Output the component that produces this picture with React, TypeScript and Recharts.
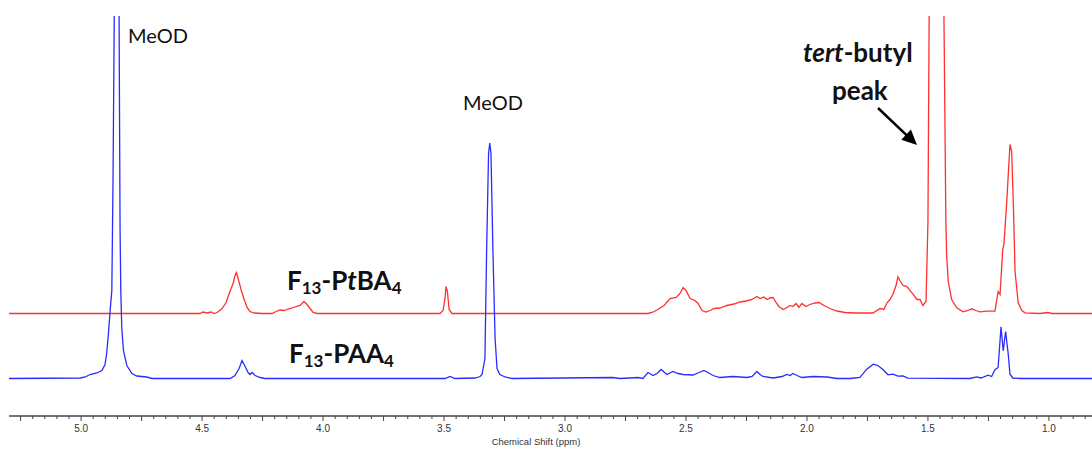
import React from 'react';
import { LineChart, Line, XAxis, YAxis } from 'recharts';

// F13-PAA4 trace (blue): chemical shift (ppm) and intensity
const bluePpm = [
  5.298, 5.004, 4.983, 4.963, 4.935, 4.914, 4.901, 4.894, 4.887, 4.88, 4.873, 4.868, 4.863, 4.853,
  4.843, 4.839, 4.836, 4.832, 4.825, 4.811, 4.79, 4.77, 4.729, 4.707, 4.384, 4.364, 4.347, 4.335,
  4.322, 4.31, 4.302, 4.293, 4.281, 4.26, 4.24, 3.496, 3.475, 3.455, 3.372, 3.351, 3.343, 3.331,
  3.324, 3.316, 3.311, 3.306, 3.298, 3.289, 3.281, 3.269, 3.248, 3.219, 2.802, 2.773, 2.698, 2.678,
  2.657, 2.636, 2.62, 2.603, 2.579, 2.554, 2.533, 2.512, 2.471, 2.446, 2.426, 2.409, 2.388, 2.36,
  2.306, 2.248, 2.227, 2.207, 2.194, 2.182, 2.14, 2.103, 2.083, 2.07, 2.058, 2.041, 2.021, 1.975,
  1.917, 1.876, 1.822, 1.781, 1.753, 1.726, 1.707, 1.686, 1.665, 1.645, 1.624, 1.603, 1.583, 1.326,
  1.299, 1.281, 1.251, 1.237, 1.223, 1.21, 1.198, 1.189, 1.179, 1.168, 1.161, 1.149, 1.12, 0.822,
];
const blueIntensity = [
  0, 0.5, 1.5, 4, 5.5, 8, 14, 26, 45, 68, 88, 200, 361, 900,
  361, 150, 88, 51, 28, 13, 5, 2.5, 1.5, 0, 0, 3, 10, 18,
  12, 6, 4, 6, 3, 1, 0, 0, 2, 0, 0.5, 2, 4, 20,
  128, 225, 235.5, 225, 128, 40, 10, 4, 1.5, 0, 1, 0, 1, 0,
  6, 3, 5, 9, 4, 7, 5, 4, 3.5, 6, 8, 6, 3, 1,
  2, 1, 2, 7, 4, 2, 0.5, 2, 4, 3, 5, 3, 1, 2,
  1.5, 0, 0, 1, 9.3, 14.3, 13, 9, 3.7, 4.3, 2.3, 2.7, 0.3, 0,
  1.7, 0.5, 3.3, 2, 8.7, 11, 51.7, 27.7, 47, 24, 4.3, 0.5, 0, 0,
];

// F13-PtBA4 trace (red)
const redPpm = [
  5.298, 4.508, 4.496, 4.479, 4.463, 4.45, 4.438, 4.417, 4.401, 4.388, 4.38, 4.372, 4.364, 4.358,
  4.351, 4.339, 4.326, 4.314, 4.302, 4.285, 4.252, 4.211, 4.194, 4.178, 4.161, 4.145, 4.128, 4.112,
  4.095, 4.079, 4.066, 4.054, 4.041, 4.025, 3.517, 3.504, 3.496, 3.492, 3.486, 3.479, 3.467, 2.657,
  2.64, 2.616, 2.591, 2.566, 2.541, 2.525, 2.512, 2.5, 2.483, 2.463, 2.45, 2.434, 2.417, 2.401,
  2.384, 2.36, 2.331, 2.302, 2.277, 2.252, 2.227, 2.207, 2.194, 2.178, 2.165, 2.153, 2.14, 2.128,
  2.116, 2.099, 2.083, 2.07, 2.058, 2.045, 2.033, 2.021, 2.004, 1.988, 1.967, 1.95, 1.93, 1.905,
  1.876, 1.843, 1.802, 1.727, 1.698, 1.682, 1.669, 1.657, 1.645, 1.632, 1.624, 1.616, 1.603, 1.587,
  1.566, 1.545, 1.533, 1.521, 1.508, 1.5, 1.495, 1.465, 1.434, 1.426, 1.423, 1.416, 1.402, 1.381,
  1.355, 1.335, 1.319, 1.302, 1.285, 1.257, 1.223, 1.21, 1.202, 1.191, 1.186, 1.175, 1.161, 1.154,
  1.147, 1.14, 1.127, 1.112, 1.099, 1.037, 1.004, 0.988, 0.822,
];
const redIntensity = [
  0, 0, 1.5, 0.5, 1.5, 0, 1, 5, 11, 20, 25, 30, 38, 41,
  35, 24, 14, 6, 2, 0.5, 0, 0, 2, 3.5, 3, 4.5, 5.5, 7,
  8, 12, 9, 5, 1, 0, 0, 3, 15, 27, 22, 4, 0, 0,
  1, 4, 8, 15, 16, 20, 26, 23, 15, 13, 10, 3, 1.5, 3,
  5, 5.5, 8, 9.5, 11.5, 12.5, 14, 17, 15, 16.5, 14, 15.5, 16, 11,
  7, 4, 6, 8, 7, 10, 6, 10, 7, 9, 10.5, 11, 8, 5,
  2.5, 1, 0.5, 0.5, 5, 4, 10.7, 14, 19, 28, 36.7, 33, 28, 27,
  20.7, 14, 14, 8, 12, 92, 300, 800, 300, 94, 59, 32, 14, 5.7,
  1.7, 3, 4.7, 3, 1.7, 2.3, 2.3, 22, 19, 64, 69, 109, 169, 162,
  109, 42, 10.7, 3, 0.7, 0, 1, 0, 0,
];

const labelTicks = [5.0, 4.5, 4.0, 3.5, 3.0, 2.5, 2.0, 1.5, 1.0];

// vertical stacking of the two spectra
const RED_OFFSET = 102.5;
const BLUE_OFFSET = 37.5;

const blueData = bluePpm.map((ppm, i) => ({ ppm, v: blueIntensity[i] + BLUE_OFFSET }));
const redData = redPpm.map((ppm, i) => ({ ppm, v: redIntensity[i] + RED_OFFSET }));

// minor ticks every 0.05 ppm
const axisTicks: number[] = [];
for (let k = 17; k <= 105; k++) axisTicks.push(Math.round(k * 5) / 100);

const AxisTick = (props: any) => {
  const { x, y, payload } = props;
  const v = payload.value as number;
  const h = Math.round(v * 100);
  const isLabel = labelTicks.some((t) => Math.abs(t - v) < 1e-6);
  const len = h % 25 === 0 ? 5 : 3;
  return (
    <g>
      <line x1={x} y1={y} x2={x} y2={y + len} stroke="#444" strokeWidth={1} />
      {isLabel && (
        <text
          x={x}
          y={y + 16}
          textAnchor="middle"
          fontSize={10}
          fill="#333"
          fontFamily="'Liberation Sans', Arial, sans-serif"
        >
          {v.toFixed(1)}
        </text>
      )}
    </g>
  );
};

const W = 1092;
const H = 449;

const arrowFrom = { x: 878, y: 108 };
const arrowTo = { x: 917, y: 145 };

const Arrow = () => {
  const dx = arrowTo.x - arrowFrom.x;
  const dy = arrowTo.y - arrowFrom.y;
  const len = Math.sqrt(dx * dx + dy * dy);
  const ux = dx / len;
  const uy = dy / len;
  const headLen = 15;
  const headHalf = 7;
  const bx = arrowTo.x - ux * headLen;
  const by = arrowTo.y - uy * headLen;
  const pts = [
    `${arrowTo.x},${arrowTo.y}`,
    `${bx - uy * headHalf},${by + ux * headHalf}`,
    `${bx + uy * headHalf},${by - ux * headHalf}`,
  ].join(' ');
  return (
    <g>
      <line x1={arrowFrom.x} y1={arrowFrom.y} x2={bx + ux * 2} y2={by + uy * 2} stroke="#000" strokeWidth={2.5} />
      <polygon points={pts} fill="#000" />
    </g>
  );
};

const font = "Lato, 'Open Sans', sans-serif";

export default function App() {
  return (
    <div style={{ position: 'absolute', left: 0, top: 0, width: W, height: H, background: '#fff' }}>
      <LineChart width={W} height={H} margin={{ top: 16, right: 0, left: 9, bottom: 0 }}>
        <XAxis
          type="number"
          dataKey="ppm"
          domain={[0.822, 5.298]}
          reversed
          allowDataOverflow
          ticks={axisTicks}
          interval={0}
          tick={<AxisTick />}
          tickLine={false}
          tickSize={0}
          tickMargin={0}
          height={33}
          axisLine={{ stroke: '#444', strokeWidth: 1.5 }}
        />
        <YAxis type="number" domain={[0, 400]} allowDataOverflow hide />
        <Line
          data={redData}
          dataKey="v"
          type="linear"
          stroke="#ff3030"
          strokeWidth={1.3}
          dot={false}
          isAnimationActive={false}
        />
        <Line
          data={blueData}
          dataKey="v"
          type="linear"
          stroke="#2b2bff"
          strokeWidth={1.3}
          dot={false}
          isAnimationActive={false}
        />
      </LineChart>
      <svg
        width={W}
        height={H}
        style={{ position: 'absolute', left: 0, top: 0, pointerEvents: 'none' }}
      >
        <text x={128} y={43} fontSize={20} fontFamily={font} fill="#111">MeOD</text>
        <text x={463} y={110} fontSize={20} fontFamily={font} fill="#111">MeOD</text>
        <text x={287} y={290} fontSize={26} fontWeight="bold" fontFamily={font} fill="#111">
          F<tspan fontSize={17} dy={4}>13</tspan>
          <tspan dy={-4}>-P</tspan>
          <tspan fontStyle="italic">t</tspan>
          BA<tspan fontSize={17} dy={4}>4</tspan>
        </text>
        <text x={289} y={363} fontSize={26} fontWeight="bold" fontFamily={font} fill="#111">
          F<tspan fontSize={17} dy={4}>13</tspan>
          <tspan dy={-4}>-PAA</tspan>
          <tspan fontSize={17} dy={4}>4</tspan>
        </text>
        <text x={803} y={62} fontSize={26} fontWeight="bold" fontFamily={font} fill="#111">
          <tspan fontStyle="italic">tert</tspan>-butyl
        </text>
        <text x={832} y={100} fontSize={26} fontWeight="bold" fontFamily={font} fill="#111">peak</text>
        <Arrow />
        <text
          x={536}
          y={445}
          textAnchor="middle"
          fontSize={9.5}
          fill="#333"
          fontFamily="'Liberation Sans', Arial, sans-serif"
        >
          Chemical Shift (ppm)
        </text>
      </svg>
    </div>
  );
}
